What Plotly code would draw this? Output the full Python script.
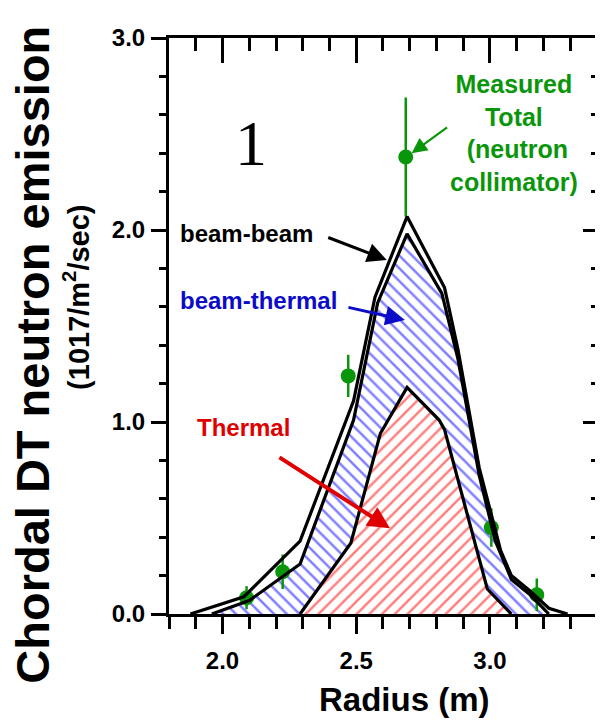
import plotly.graph_objects as go

# ---------------- data ----------------
radius_thermal = [2.29, 2.48, 2.59, 2.69, 2.81, 2.83, 2.99, 3.08]
thermal = [0.0, 0.37, 0.94, 1.18, 1.01, 0.96, 0.13, 0.0]

radius_beam_thermal = [1.96, 2.10, 2.29, 2.49, 2.58, 2.69, 2.82, 2.88, 2.96, 3.02, 3.08, 3.15, 3.22]
thermal_plus_beam_thermal = [0.0, 0.07, 0.26, 1.01, 1.62, 1.98, 1.67, 1.33, 0.72, 0.38, 0.18, 0.10, 0.0]

radius_total = [1.88, 2.08, 2.29, 2.49, 2.57, 2.69, 2.83, 2.88, 2.96, 3.04, 3.08, 3.15, 3.22, 3.29]
total = [0.0, 0.09, 0.38, 1.11, 1.65, 2.07, 1.70, 1.38, 0.76, 0.33, 0.20, 0.12, 0.03, 0.0]

radius_measured = [2.09, 2.225, 2.47, 2.685, 3.005, 3.175]
measured = [0.085, 0.22, 1.24, 2.38, 0.45, 0.10]
measured_err = [0.06, 0.09, 0.11, 0.31, 0.10, 0.085]

x_tick_vals = [2.0, 2.5, 3.0]
y_tick_vals = [0.0, 1.0, 2.0, 3.0]
x_range = [1.8, 3.415]
y_range = [0.0, 3.0]

# ---------------- styles ----------------
SANS = "Liberation Sans, Arial, sans-serif"
GREEN = "#0a960a"
BLUE = "#0c0cc8"
RED = "#e00000"

fig = go.Figure()

# red hatched thermal area
fig.add_trace(go.Scatter(
    x=radius_thermal, y=thermal, mode="lines", line=dict(width=0, color="black"),
    fill="tozeroy", fillcolor="rgba(0,0,0,0)",
    fillpattern=dict(shape="/", fgcolor="#ff0000", bgcolor="rgba(255,255,255,0)",
                     size=9, solidity=0.28),
    hoverinfo="skip", showlegend=False))
# blue hatched beam-thermal area
fig.add_trace(go.Scatter(
    x=radius_beam_thermal, y=thermal_plus_beam_thermal, mode="lines",
    line=dict(width=0, color="black"),
    fill="tonexty", fillcolor="rgba(0,0,0,0)",
    fillpattern=dict(shape="\\", fgcolor="#0000ff", bgcolor="rgba(255,255,255,0)",
                     size=9, solidity=0.28),
    hoverinfo="skip", showlegend=False))

# measured points
fig.add_trace(go.Scatter(
    x=radius_measured, y=measured, mode="markers",
    marker=dict(color=GREEN, size=15),
    error_y=dict(type="data", array=measured_err, color=GREEN, thickness=2.5, width=0),
    showlegend=False))

# black outlines
for xs, ys in [(radius_thermal, thermal),
               (radius_beam_thermal, thermal_plus_beam_thermal),
               (radius_total, total)]:
    fig.add_trace(go.Scatter(x=xs, y=ys, mode="lines",
                             line=dict(color="black", width=3.2),
                             showlegend=False, hoverinfo="skip"))

# dummy trace for mirrored (inside) axes on top/right
fig.add_trace(go.Scatter(x=[None], y=[None], xaxis="x2", yaxis="y2",
                         showlegend=False, hoverinfo="skip"))

tickfont = dict(family=SANS, size=24, color="black", weight="bold")

fig.update_layout(
    width=595, height=717,
    margin=dict(l=161, r=2, t=30, b=111),
    paper_bgcolor="white", plot_bgcolor="white",
    xaxis=dict(range=x_range, showgrid=False, zeroline=False,
               showline=True, linecolor="black", linewidth=3,
               tickmode="array", tickvals=x_tick_vals, tickformat=".1f",
               ticks="outside", ticklen=17, tickwidth=3, tickcolor="black",
               tickfont=tickfont, ticklabelstandoff=6,
               minor=dict(ticks="outside", dtick=0.1, tick0=1.8, ticklen=12,
                          tickwidth=3, tickcolor="black", showgrid=False)),
    yaxis=dict(range=y_range, showgrid=False, zeroline=False,
               showline=True, linecolor="black", linewidth=3,
               tickmode="array", tickvals=y_tick_vals, tickformat=".1f",
               ticks="outside", ticklen=15, tickwidth=3, tickcolor="black",
               tickfont=tickfont, ticklabelstandoff=1,
               minor=dict(ticks="outside", dtick=0.2, tick0=0, ticklen=7,
                          tickwidth=3, tickcolor="black", showgrid=False)),
    xaxis2=dict(range=x_range, overlaying="x", side="top", anchor="y2",
                showgrid=False, zeroline=False, showticklabels=False,
                showline=True, linecolor="black", linewidth=3,
                tickmode="array", tickvals=x_tick_vals,
                ticks="inside", ticklen=25, tickwidth=3, tickcolor="black",
                minor=dict(ticks="inside", dtick=0.1, tick0=1.8, ticklen=13,
                           tickwidth=3, tickcolor="black", showgrid=False)),
    yaxis2=dict(range=y_range, overlaying="y", side="right", anchor="x2",
                showgrid=False, zeroline=False, showticklabels=False,
                showline=True, linecolor="black", linewidth=3,
                tickmode="array", tickvals=y_tick_vals,
                ticks="inside", ticklen=18, tickwidth=3, tickcolor="black",
                minor=dict(ticks="inside", dtick=0.2, tick0=0, ticklen=10,
                           tickwidth=3, tickcolor="black", showgrid=False)),
)

ann = []
# axis titles
ann.append(dict(text="Chordal DT neutron emission", xref="paper", yref="paper",
                x=-0.315, y=0.45, xanchor="center", yanchor="middle", textangle=-90,
                showarrow=False, font=dict(family=SANS, size=47, color="black", weight="bold")))
ann.append(dict(text="(1017/m<sup>2</sup>/sec)", xref="paper", yref="paper",
                x=-0.215, y=0.549, xanchor="center", yanchor="middle", textangle=-90,
                showarrow=False, font=dict(family=SANS, size=29, color="black", weight="bold")))
ann.append(dict(text="Radius (m)", xref="paper", yref="paper",
                x=0.546, y=-0.149, xanchor="center", yanchor="middle",
                showarrow=False, font=dict(family=SANS, size=33, color="black", weight="bold")))
# panel number
ann.append(dict(text="1", x=2.105, y=2.45, xanchor="center", yanchor="middle",
                showarrow=False, font=dict(family="Liberation Serif, Times New Roman, serif",
                                           size=64, color="black")))
# labels
LBL = dict(family=SANS, size=24, weight="bold")
ann.append(dict(text="beam-beam", x=2.088, y=1.984, xanchor="center", yanchor="middle",
                showarrow=False, font=dict(LBL, color="black")))
ann.append(dict(text="beam-thermal", x=2.136, y=1.635, xanchor="center", yanchor="middle",
                showarrow=False, font=dict(LBL, color=BLUE)))
ann.append(dict(text="Thermal", x=2.080, y=0.969, xanchor="center", yanchor="middle",
                showarrow=False, font=dict(LBL, color=RED)))
ann.append(dict(text="Measured<br>Total<br> (neutron<br>collimator)", x=3.09, y=2.505,
                xanchor="center", yanchor="middle", align="center",
                showarrow=False, font=dict(family=SANS, size=25, color=GREEN, weight="bold")))
# arrows
ann.append(dict(text="", x=2.614, y=1.844, ax=-60, ay=-23, showarrow=True,
                arrowhead=2, arrowsize=1.3, arrowwidth=3, arrowcolor="black", standoff=0))
ann.append(dict(text="", x=2.682, y=1.531, ax=-58, ay=-13, showarrow=True,
                arrowhead=2, arrowsize=1.3, arrowwidth=3, arrowcolor=BLUE, standoff=0))
ann.append(dict(text="", x=2.626, y=0.446, ax=-112, ay=-72, showarrow=True,
                arrowhead=2, arrowsize=1.1, arrowwidth=4, arrowcolor=RED, standoff=0))
ann.append(dict(text="", x=2.707, y=2.40, ax=37, ay=-27, showarrow=True,
                arrowhead=2, arrowsize=1.4, arrowwidth=2.2, arrowcolor=GREEN, standoff=0))
fig.update_layout(annotations=ann)

fig.write_html("out.html")
